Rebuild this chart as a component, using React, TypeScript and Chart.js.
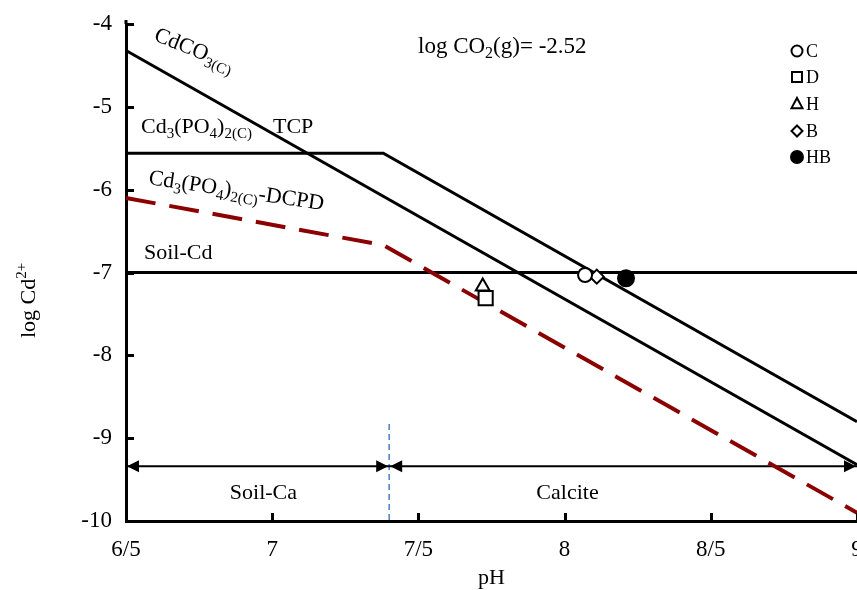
import { useEffect, useRef } from 'react';
import { Chart, registerables } from 'chart.js';

Chart.register(...registerables);

// ---- data ----
const xTickValues = [6.5, 7, 7.5, 8, 8.5, 9];
const xTickLabels = ['6/5', '7', '7/5', '8', '8/5', '9'];
const yTickValues = [-10, -9, -8, -7, -6, -5, -4];
const yTickLabels = ['-10', '-9', '-8', '-7', '-6', '-5', '-4'];

const cdco3Ph = [6.5, 9];
const cdco3Log = [-4.32, -9.32];
const tcpPh = [6.5, 7.38, 9];
const tcpLog = [-5.56, -5.56, -8.8];
const dcpdPh = [6.5, 7.38, 9];
const dcpdLog = [-6.1, -6.67, -9.9];
const soilCdPh = [6.5, 9];
const soilCdLog = [-7, -7];

const sampleNames = ['C', 'D', 'H', 'B', 'HB'];
const samplePh = [8.07, 7.73, 7.72, 8.11, 8.21];
const sampleLog = [-7.03, -7.31, -7.17, -7.05, -7.07];

const boundaryPh = 7.4;
const boundaryTopLog = -8.83;
const regionArrowLog = -9.34;
const regionNames = ['Soil-Ca', 'Calcite'];
const regionLabelPh = [6.97, 8.01];
const regionLabelLog = -9.66;

const FONT = '"Liberation Serif", "Times New Roman", serif';

const sampleStyles = [
  { pointStyle: 'circle', radius: 7, fill: '#fff' },
  { pointStyle: 'rect', radius: 10, fill: '#fff' },
  { pointStyle: 'triangle', radius: 8, fill: '#fff' },
  { pointStyle: 'rectRot', radius: 7, fill: '#fff' },
  { pointStyle: 'circle', radius: 8, fill: '#000' },
];

function zip(xs: number[], ys: number[]) {
  return xs.map((x, i) => ({ x, y: ys[i] }));
}

function drawRich(ctx: CanvasRenderingContext2D, parts: Array<[string, number, number]>, x: number, y: number) {
  let cx = x;
  for (const [t, size, dy] of parts) {
    ctx.font = `${size}px ${FONT}`;
    ctx.fillText(t, cx, y + dy);
    cx += ctx.measureText(t).width;
  }
  return cx - x;
}

function drawMarker(ctx: CanvasRenderingContext2D, style: string, x: number, y: number, r: number, fill: string) {
  ctx.beginPath();
  if (style === 'circle') {
    ctx.arc(x, y, r, 0, Math.PI * 2);
  } else if (style === 'rect') {
    ctx.rect(x - r, y - r, 2 * r, 2 * r);
  } else if (style === 'triangle') {
    ctx.moveTo(x, y - r * 1.1);
    ctx.lineTo(x + r, y + r * 0.75);
    ctx.lineTo(x - r, y + r * 0.75);
    ctx.closePath();
  } else if (style === 'rectRot') {
    ctx.moveTo(x, y - r);
    ctx.lineTo(x + r, y);
    ctx.lineTo(x, y + r);
    ctx.lineTo(x - r, y);
    ctx.closePath();
  }
  ctx.fillStyle = fill;
  ctx.fill();
  ctx.lineWidth = 2;
  ctx.strokeStyle = '#000';
  ctx.stroke();
}

const overlayPlugin = {
  id: 'overlay',
  afterDraw(chart: any) {
    const ctx: CanvasRenderingContext2D = chart.ctx;
    const xs = chart.scales.x;
    const ys = chart.scales.y;
    const area = chart.chartArea;
    const px = (v: number) => xs.getPixelForValue(v);
    const py = (v: number) => ys.getPixelForValue(v);
    ctx.save();

    // inward ticks
    ctx.strokeStyle = '#000';
    ctx.lineWidth = 3;
    ctx.beginPath();
    for (const v of yTickValues) {
      const y = Math.round(py(v)) + 0.5;
      ctx.moveTo(area.left, y);
      ctx.lineTo(area.left + 8, y);
    }
    for (const v of xTickValues) {
      const x = Math.round(px(v)) + 0.5;
      ctx.moveTo(x, area.bottom);
      ctx.lineTo(x, area.bottom - 8);
    }
    ctx.stroke();
    // axis top extension
    ctx.beginPath();
    ctx.moveTo(area.left, area.top);
    ctx.lineTo(area.left, area.top - 4);
    ctx.stroke();

    // x tick labels (drawn here so the last one is cut by the canvas edge)
    ctx.fillStyle = '#000';
    ctx.font = `23px ${FONT}`;
    ctx.textAlign = 'center';
    ctx.textBaseline = 'middle';
    xTickValues.forEach((v, i) => ctx.fillText(xTickLabels[i], px(v), 550));

    // arrow heads
    const ay = py(regionArrowLog);
    const head = (x: number, dir: number) => {
      ctx.beginPath();
      ctx.moveTo(x, ay);
      ctx.lineTo(x - dir * 12, ay - 6);
      ctx.lineTo(x - dir * 12, ay + 6);
      ctx.closePath();
      ctx.fillStyle = '#000';
      ctx.fill();
    };
    const bx = px(boundaryPh);
    head(px(6.5) + 1, -1);
    head(bx - 1, 1);
    head(bx + 1, -1);
    head(px(9) - 1, 1);

    ctx.fillStyle = '#000';

    // region labels
    ctx.textAlign = 'center';
    ctx.textBaseline = 'middle';
    ctx.font = `22px ${FONT}`;
    regionNames.forEach((n, i) => ctx.fillText(n, px(regionLabelPh[i]), py(regionLabelLog)));

    // axis titles
    ctx.fillText('pH', (area.left + area.right) / 2, 578);
    ctx.textAlign = 'left';
    ctx.textBaseline = 'alphabetic';
    ctx.save();
    ctx.translate(35, 338);
    ctx.rotate(-Math.PI / 2);
    drawRich(ctx, [['log Cd', 22, 0], ['2+', 15, -9]], 0, 0);
    ctx.restore();

    // Soil-Cd
    ctx.font = `22px ${FONT}`;
    ctx.fillText('Soil-Cd', 144, 259);

    // TCP label
    drawRich(ctx, [['Cd', 22, 0], ['3', 15, 5], ['(PO', 22, 0], ['4', 15, 5], [')', 22, 0], ['2(C)', 15, 5]], 141, 133);
    ctx.font = `22px ${FONT}`;
    ctx.fillText('TCP', 273, 133);

    // CdCO3 label (rotated)
    ctx.save();
    ctx.translate(153, 40);
    ctx.rotate((22 * Math.PI) / 180);
    drawRich(ctx, [['CdCO', 22, 0], ['3(C)', 15, 5]], 0, 0);
    ctx.restore();

    // DCPD label (rotated)
    ctx.save();
    ctx.translate(148, 184);
    ctx.rotate((8.5 * Math.PI) / 180);
    drawRich(ctx, [['Cd', 22, 0], ['3', 15, 5], ['(PO', 22, 0], ['4', 15, 5], [')', 22, 0], ['2(C)', 15, 5], ['-DCPD', 22, 0]], 0, 0);
    ctx.restore();

    // log CO2 label
    drawRich(ctx, [['log CO', 23, 0], ['2', 16, 5], ['(g)= -2.52', 23, 0]], 418, 53);

    // legend
    const ly = [51, 77, 104, 131, 157];
    sampleNames.forEach((n, i) => {
      const st = sampleStyles[i];
      const r = st.pointStyle === 'rect' ? 5 : st.pointStyle === 'circle' && st.fill === '#000' ? 6 : 5.5;
      drawMarker(ctx, st.pointStyle, 797, ly[i], r, st.fill);
      ctx.fillStyle = '#000';
      ctx.font = `18px ${FONT}`;
      ctx.textBaseline = 'middle';
      ctx.fillText(n, 806, ly[i] + 1);
    });

    ctx.restore();
  },
};

export default function App() {
  const ref = useRef<HTMLCanvasElement | null>(null);

  useEffect(() => {
    document.body.style.margin = '0';
    if (!ref.current) return;

    const sampleSets = sampleNames.map((n, i) => ({
      label: n,
      data: [{ x: samplePh[i], y: sampleLog[i] }],
      showLine: false,
      pointStyle: sampleStyles[i].pointStyle,
      pointRadius: sampleStyles[i].radius,
      pointBackgroundColor: sampleStyles[i].fill,
      pointBorderColor: '#000',
      pointBorderWidth: 2,
      clip: false,
    }));

    const lineBase = { showLine: true, pointRadius: 0, fill: false, clip: false };

    const chart = new Chart(ref.current, {
      type: 'scatter',
      data: {
        datasets: [
          ...sampleSets,
          { ...lineBase, label: 'CdCO3', data: zip(cdco3Ph, cdco3Log), borderColor: '#000', borderWidth: 3 },
          { ...lineBase, label: 'TCP', data: zip(tcpPh, tcpLog), borderColor: '#000', borderWidth: 3 },
          {
            ...lineBase,
            label: 'DCPD',
            data: zip(dcpdPh, dcpdLog),
            borderColor: '#8b0000',
            borderWidth: 4,
            borderDash: [30, 14],
          },
          { ...lineBase, label: 'Soil-Cd', data: zip(soilCdPh, soilCdLog), borderColor: '#000', borderWidth: 3 },
          {
            ...lineBase,
            label: 'regions',
            data: zip([6.5, 9], [regionArrowLog, regionArrowLog]),
            borderColor: '#000',
            borderWidth: 2,
          },
          {
            ...lineBase,
            label: 'boundary',
            data: zip([boundaryPh, boundaryPh], [boundaryTopLog, -10]),
            borderColor: '#4a7ebb',
            borderWidth: 1.5,
            borderDash: [6, 4],
          },
        ] as any,
      },
      options: {
        animation: false,
        responsive: false,
        maintainAspectRatio: false,
        layout: { autoPadding: false, padding: { top: 24, right: 0, left: 0, bottom: 0 } },
        plugins: { legend: { display: false }, tooltip: { enabled: false }, title: { display: false } },
        scales: {
          x: {
            type: 'linear',
            min: 6.5,
            max: 9,
            afterBuildTicks: (s: any) => {
              s.ticks = xTickValues.map((v) => ({ value: v }));
            },
            afterFit: (s: any) => {
              s.height = 69;
              s.paddingRight = 0;
              s.paddingLeft = 0;
            },
            ticks: { display: false },
            grid: { display: false, drawTicks: false },
            border: { display: true, color: '#000', width: 3 },
          },
          y: {
            type: 'linear',
            min: -10,
            max: -4,
            afterBuildTicks: (s: any) => {
              s.ticks = yTickValues.map((v) => ({ value: v }));
            },
            afterFit: (s: any) => {
              s.width = 126;
              s.paddingTop = 0;
              s.paddingBottom = 0;
            },
            ticks: {
              callback: (v: any) => yTickLabels[yTickValues.indexOf(Number(v))] ?? '',
              font: { family: 'Liberation Serif', size: 23 },
              color: '#000',
              padding: 14,
              autoSkip: false,
            },
            grid: { display: false, drawTicks: false },
            border: { display: true, color: '#000', width: 3 },
          },
        },
      } as any,
      plugins: [overlayPlugin],
    });

    return () => chart.destroy();
  }, []);

  return (
    <div style={{ width: 857, height: 590, overflow: 'hidden', background: '#fff' }}>
      <canvas ref={ref} width={857} height={590} style={{ display: 'block' }} />
    </div>
  );
}
